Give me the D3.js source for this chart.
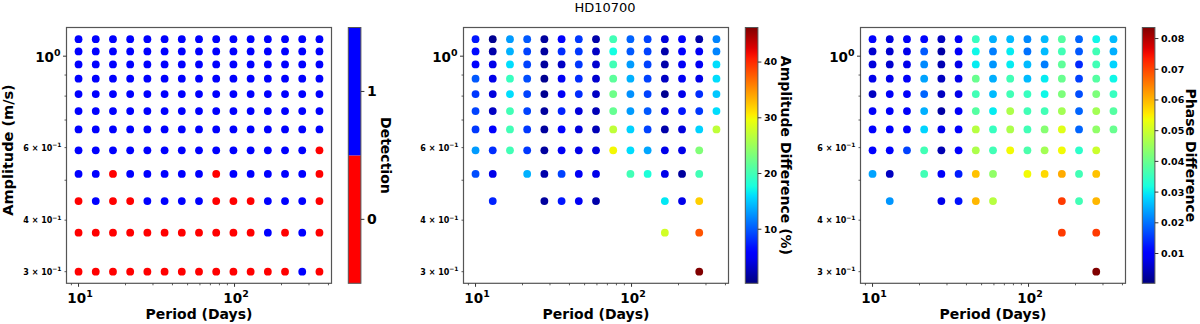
<!DOCTYPE html>
<html>
<head>
<meta charset="utf-8">
<script src="https://d3js.org/d3.v7.min.js"></script>
<style>
  body { margin: 0; background: #fff; }
  text { font-family: "DejaVu Sans", sans-serif; font-weight: bold; fill: #000; }
</style>
</head>
<body>
<script>
// grid of injected signals
var periods = [10.0, 12.89, 16.62, 21.43, 27.62, 35.61, 45.91, 59.18, 76.29, 98.36, 126.8, 163.5, 210.7, 271.6, 350.2];
// rows from top (largest amplitude) to bottom
var amplitudes = [1.1, 1.027, 0.955, 0.882, 0.809, 0.736, 0.664, 0.591, 0.518, 0.445, 0.373, 0.3];

var detection = [
  [1,1,1,1,1,1,1,1,1,1,1,1,1,1,1],
  [1,1,1,1,1,1,1,1,1,1,1,1,1,1,1],
  [1,1,1,1,1,1,1,1,1,1,1,1,1,1,1],
  [1,1,1,1,1,1,1,1,1,1,1,1,1,1,1],
  [1,1,1,1,1,1,1,1,1,1,1,1,1,1,1],
  [1,1,1,1,1,1,1,1,1,1,1,1,1,1,1],
  [1,1,1,1,1,1,1,1,1,1,1,1,1,1,1],
  [1,1,1,1,1,1,1,1,1,1,1,1,1,1,0],
  [1,1,0,1,1,1,1,1,0,1,1,1,1,1,0],
  [0,1,0,0,1,1,1,1,0,0,0,1,1,1,0],
  [0,0,0,0,0,0,0,0,0,0,0,1,0,1,0],
  [0,0,0,0,0,0,0,0,0,0,0,0,0,1,0]
];

// amplitude difference (%), null = not detected
var ampDiff = [
  [7, 1, 13, 10, 1.5, 5.5, 8.5, 2, 20, 10.5, 9, 4, 5.5, 2, 12],
  [6.5, 2, 14, 9, 1.5, 8, 8.5, 3, 17.5, 10, 9, 2, 6, 5, 12],
  [5.5, 4.5, 16, 9, 1.5, 3, 8.5, 3.5, 20, 13, 9, 2, 5, 5, 16],
  [10, 4.5, 19.5, 9.5, 1, 5, 8, 3.5, 21.5, 14, 9, 3, 5, 4.5, 16],
  [8.5, 4, 16, 9, 1, 5, 8, 3, 22.5, 12.5, 9, 1, 4.5, 8, 15],
  [9, 3, 20, 9, 1.5, 7.5, 4, 2.5, 22, 13, 10, 4, 7, 8.5, 16],
  [8.5, 5.5, 20, 8.5, 1.5, 5.5, 4, 2.5, 27, 15.5, 9, 2, 4, 15.5, 27],
  [13, 8, 20, 8.5, 1.5, 5, 4.5, 4, 30, 16, 13.5, 4.5, 4.5, 23.5, null],
  [9.5, 4.5, null, 14, 2, 9, 5, 4.5, null, 20, 18, 4.5, 1.5, 20, null],
  [null, 7.5, null, null, 1.5, 7, 5, 2, null, null, null, 16.5, 4.5, 32, null],
  [null, null, null, null, null, null, null, null, null, null, null, 28, null, 38, null],
  [null, null, null, null, null, null, null, null, null, null, null, null, null, 46.2, null]
];

// phase difference, null = not detected
var phaseDiff = [
  [0.010, 0.007, 0.009, 0.011, 0.005, 0.009, 0.035, 0.025, 0.026, 0.022, 0.026, 0.038, 0.019, 0.031, 0.026],
  [0.006, 0.006, 0.008, 0.018, 0.003, 0.009, 0.031, 0.021, 0.030, 0.020, 0.026, 0.036, 0.018, 0.036, 0.025],
  [0.007, 0.006, 0.008, 0.022, 0.004, 0.008, 0.030, 0.023, 0.030, 0.026, 0.021, 0.039, 0.014, 0.036, 0.028],
  [0.008, 0.008, 0.009, 0.024, 0.005, 0.008, 0.040, 0.025, 0.036, 0.026, 0.030, 0.040, 0.016, 0.038, 0.031],
  [0.005, 0.009, 0.009, 0.019, 0.005, 0.008, 0.036, 0.026, 0.036, 0.035, 0.031, 0.042, 0.017, 0.042, 0.035],
  [0.009, 0.009, 0.009, 0.025, 0.003, 0.009, 0.038, 0.030, 0.047, 0.036, 0.036, 0.046, 0.019, 0.046, 0.038],
  [0.010, 0.010, 0.010, 0.028, 0.008, 0.010, 0.048, 0.035, 0.047, 0.036, 0.043, 0.052, 0.019, 0.044, 0.040],
  [0.010, 0.010, 0.016, 0.036, 0.004, 0.010, 0.047, 0.036, 0.054, 0.037, 0.046, 0.054, 0.034, 0.050, null],
  [0.024, 0.005, null, 0.036, 0.009, 0.013, 0.059, 0.044, null, 0.054, 0.057, 0.061, 0.036, 0.059, null],
  [null, 0.023, null, null, 0.008, 0.012, 0.060, 0.048, null, null, null, 0.071, 0.036, 0.060, null],
  [null, null, null, null, null, null, null, null, null, null, null, 0.071, null, 0.071, null],
  [null, null, null, null, null, null, null, null, null, null, null, null, null, 0.0836, null]
];

var detTicks = [0, 1];
var ampTicks = [10, 20, 30, 40];
var phaseTicks = [0.01, 0.02, 0.03, 0.04, 0.05, 0.06, 0.07, 0.08];

var W = 1200, H = 324;
var plotTop = 27.5, plotBottom = 283.3, plotW = 265;
var cbGap = 16.8, cbW = 12.6;

var svg = d3.select("body").append("svg").attr("width", W).attr("height", H);

// jet colormap built from scales
var jetR = d3.scaleLinear().domain([0, 0.35, 0.66, 0.89, 1]).range([0, 0, 1, 1, 0.5]).clamp(true);
var jetG = d3.scaleLinear().domain([0, 0.125, 0.375, 0.64, 0.91, 1]).range([0, 0, 1, 1, 0, 0]).clamp(true);
var jetB = d3.scaleLinear().domain([0, 0.11, 0.34, 0.65, 1]).range([0.5, 1, 1, 0, 0]).clamp(true);
function jet(t) { return d3.rgb(255 * jetR(t), 255 * jetG(t), 255 * jetB(t)).toString(); }

// log domain with matplotlib-like 5% padding
function padLog(ext) {
  var l0 = Math.log10(ext[0]), l1 = Math.log10(ext[1]), p = (l1 - l0) * 0.05;
  return [Math.pow(10, l0 - p), Math.pow(10, l1 + p)];
}
var xDom = padLog(d3.extent(periods));
var yDom = padLog(d3.extent(amplitudes));

function sup(t, base, exp, fs) {
  t.append("tspan").text(base);
  t.append("tspan").attr("dy", -fs * 0.42).attr("font-size", fs * 0.7).text(exp);
}

var gradId = 0;

function drawPanel(x0, matrix, color, cb) {
  var xScale = d3.scaleLog().domain(xDom).range([x0, x0 + plotW]);
  var yScale = d3.scaleLog().domain(yDom).range([plotBottom, plotTop]);
  var g = svg.append("g");

  // dots
  var pts = [];
  matrix.forEach(function(row, i) {
    row.forEach(function(v, j) {
      if (v !== null) pts.push({p: periods[j], a: amplitudes[i], v: v});
    });
  });
  g.selectAll("circle").data(pts).enter().append("circle")
    .attr("cx", function(d) { return xScale(d.p); })
    .attr("cy", function(d) { return yScale(d.a); })
    .attr("r", 3.9)
    .attr("fill", function(d) { return color(d.v); });

  // frame
  g.append("rect").attr("x", x0).attr("y", plotTop).attr("width", plotW).attr("height", plotBottom - plotTop)
    .attr("fill", "none").attr("stroke", "#555").attr("stroke-width", 1.2);

  // x ticks
  var xMajor = [10, 100];
  var xMinor = [9, 20, 30, 40, 50, 60, 70, 80, 90, 200, 300, 400].filter(function(v) { return v >= xDom[0] && v <= xDom[1]; });
  xMinor.forEach(function(v) {
    g.append("line").attr("x1", xScale(v)).attr("x2", xScale(v)).attr("y1", plotBottom).attr("y2", plotBottom + 2)
      .attr("stroke", "#333").attr("stroke-width", 0.8);
  });
  xMajor.forEach(function(v, i) {
    g.append("line").attr("x1", xScale(v)).attr("x2", xScale(v)).attr("y1", plotBottom).attr("y2", plotBottom + 3.5)
      .attr("stroke", "#333").attr("stroke-width", 1);
    var t = g.append("text").attr("x", xScale(v) + 1.5).attr("y", 302.5).attr("text-anchor", "middle")
      .attr("font-size", 13.5);
    sup(t, "10", String(i + 1), 13.5);
  });

  // y ticks
  var yMinor = [0.3, 0.4, 0.5, 0.6, 0.7, 0.8, 0.9];
  var yMinorLab = {0.3: "3", 0.4: "4", 0.6: "6"};
  yMinor.forEach(function(v) {
    g.append("line").attr("x1", x0 - 2).attr("x2", x0).attr("y1", yScale(v)).attr("y2", yScale(v))
      .attr("stroke", "#333").attr("stroke-width", 0.8);
    if (yMinorLab[v]) {
      var t = g.append("text").attr("x", x0 - 5).attr("y", yScale(v) + 3).attr("text-anchor", "end")
        .attr("font-size", 8);
      t.append("tspan").text(yMinorLab[v] + " \u00d7 10");
      t.append("tspan").attr("dy", -3.5).attr("font-size", 6).text("\u22121");
    }
  });
  g.append("line").attr("x1", x0 - 3.5).attr("x2", x0).attr("y1", yScale(1)).attr("y2", yScale(1))
    .attr("stroke", "#333").attr("stroke-width", 1);
  var ty = g.append("text").attr("x", x0 - 6).attr("y", yScale(1) + 5.5).attr("text-anchor", "end").attr("font-size", 13.5);
  sup(ty, "10", "0", 13.5);

  g.append("text").attr("x", x0 + plotW / 2).attr("y", 319).attr("text-anchor", "middle")
    .attr("font-size", 14).text("Period (Days)");

  // colorbar
  var cx = x0 + plotW + cbGap;
  var cScale = d3.scaleLinear().domain(cb.domain).range([plotBottom, plotTop]);
  if (cb.discrete) {
    cb.cats.forEach(function(c) {
      g.append("rect").attr("x", cx).attr("width", cbW)
        .attr("y", cScale(c + 0.5)).attr("height", cScale(c - 0.5) - cScale(c + 0.5))
        .attr("fill", color(c));
    });
  } else {
    var id = "grad" + (gradId++);
    var grad = svg.append("defs").append("linearGradient").attr("id", id)
      .attr("x1", 0).attr("y1", 1).attr("x2", 0).attr("y2", 0);
    d3.range(0, 1.0001, 0.02).forEach(function(t) {
      grad.append("stop").attr("offset", t).attr("stop-color", jet(t));
    });
    g.append("rect").attr("x", cx).attr("y", plotTop).attr("width", cbW).attr("height", plotBottom - plotTop)
      .attr("fill", "url(#" + id + ")");
  }
  g.append("rect").attr("x", cx).attr("y", plotTop).attr("width", cbW).attr("height", plotBottom - plotTop)
    .attr("fill", "none").attr("stroke", "#555").attr("stroke-width", 1);
  cb.ticks.forEach(function(v) {
    g.append("line").attr("x1", cx + cbW).attr("x2", cx + cbW + 3.5).attr("y1", cScale(v)).attr("y2", cScale(v))
      .attr("stroke", "#333").attr("stroke-width", 1);
    g.append("text").attr("x", cx + cbW + 6).attr("y", cScale(v) + cb.fs * 0.36)
      .attr("font-size", cb.fs).text(cb.fmt(v));
  });
  g.append("text").attr("transform", "translate(" + cb.labelX + "," + ((plotTop + plotBottom) / 2) + ") rotate(90)")
    .attr("text-anchor", "middle").attr("font-size", 14).text(cb.label);

  return g;
}

var detColor = function(v) { return v === 1 ? "#0000ff" : "#ff0000"; };
var ampDom = [0.3, 46.2];
var ampColor = function(v) { return jet((v - ampDom[0]) / (ampDom[1] - ampDom[0])); };
var phDom = [0.0003, 0.0836];
var phColor = function(v) { return jet((v - phDom[0]) / (phDom[1] - phDom[0])); };

drawPanel(66.5, detection, detColor, {
  discrete: true, cats: detTicks, domain: [-0.5, 1.5], ticks: detTicks, fs: 14,
  fmt: function(v) { return String(v); }, label: "Detection", labelX: 381
});
drawPanel(463.5, ampDiff, ampColor, {
  domain: ampDom, ticks: ampTicks, fs: 9.5,
  fmt: function(v) { return String(v); }, label: "Amplitude Difference (%)", labelX: 781
});
drawPanel(860.5, phaseDiff, phColor, {
  domain: phDom, ticks: phaseTicks, fs: 9.5,
  fmt: d3.format(".2f"), label: "Phase Difference", labelX: 1186
});

// y label (first panel only)
svg.append("text").attr("transform", "translate(13,150) rotate(-90)")
  .attr("text-anchor", "middle").attr("font-size", 14.5).text("Amplitude (m/s)");

// title
svg.append("text").attr("x", 605).attr("y", 12).attr("text-anchor", "middle")
  .attr("font-size", 13).style("font-weight", "normal").text("HD10700");
</script>
</body>
</html>
